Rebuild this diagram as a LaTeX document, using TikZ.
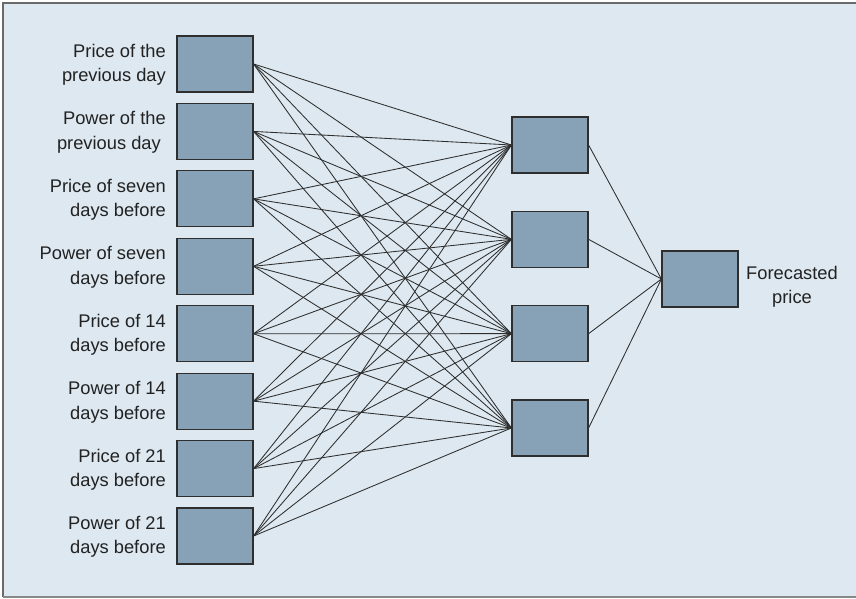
\documentclass[tikz,border=0pt]{standalone}
\usepackage{fontspec}
\setmainfont{Liberation Sans}
\definecolor{bgc}{HTML}{DDE8F0}
\definecolor{boxfill}{HTML}{87A2B6}
\definecolor{boxline}{HTML}{2E2E2E}
\definecolor{framec}{HTML}{6A6A6A}
\definecolor{txtc}{HTML}{222222}
\begin{document}
\begin{tikzpicture}[x=1pt,y=-1pt,
  unit/.style={rectangle, draw=boxline, fill=boxfill, line width=1.2pt,
    minimum width=76pt, minimum height=56pt, inner sep=0pt},
  lbl/.style={align=right, anchor=east, inner sep=0pt, text=txtc,
    font=\fontsize{18.3}{24.5}\selectfont},
  outlbl/.style={align=center, inner sep=0pt, text=txtc,
    font=\fontsize{18.3}{24}\selectfont},
  conn/.style={draw=boxline, line width=0.85pt}]
\useasboundingbox (0,0) rectangle (856,599);
\fill[bgc] (3,3) rectangle (860,597);
\draw[framec, line width=1.6pt] (860,3) -- (3,3) -- (3,597);
\draw[framec!80, line width=1.6pt] (3,597) -- (860,597);

% input units
\foreach \i/\t in {1/{Price of the\\previous day},
                   2/{Power of the\\previous day\hspace*{5pt}},
                   3/{Price of seven\\days before},
                   4/{Power of seven\\days before},
                   5/{Price of 14\\days before},
                   6/{Power of 14\\days before},
                   7/{Price of 21\\days before},
                   8/{Power of 21\\days before}}{
  \node[unit] (in\i) at (215, {64+67.43*(\i-1)}) {};
  \node[lbl] (lab\i) at (166, {65+67.43*(\i-1)}) {\t};
}
% hidden units
\foreach \j in {1,...,4}{
  \node[unit] (h\j) at (550, {145+94.33*(\j-1)}) {};
}
% output unit
\node[unit] (out) at (700, 279) {};
\node[outlbl] (outlab) at (792, 287) {Forecasted\\price};

\foreach \i in {1,...,8}{
  \foreach \j in {1,...,4}{
    \draw[conn] (in\i.east) -- (h\j.west);
  }
}
\foreach \j in {1,...,4}{
  \draw[conn] (h\j.east) -- (out.west);
}
\end{tikzpicture}
\end{document}
